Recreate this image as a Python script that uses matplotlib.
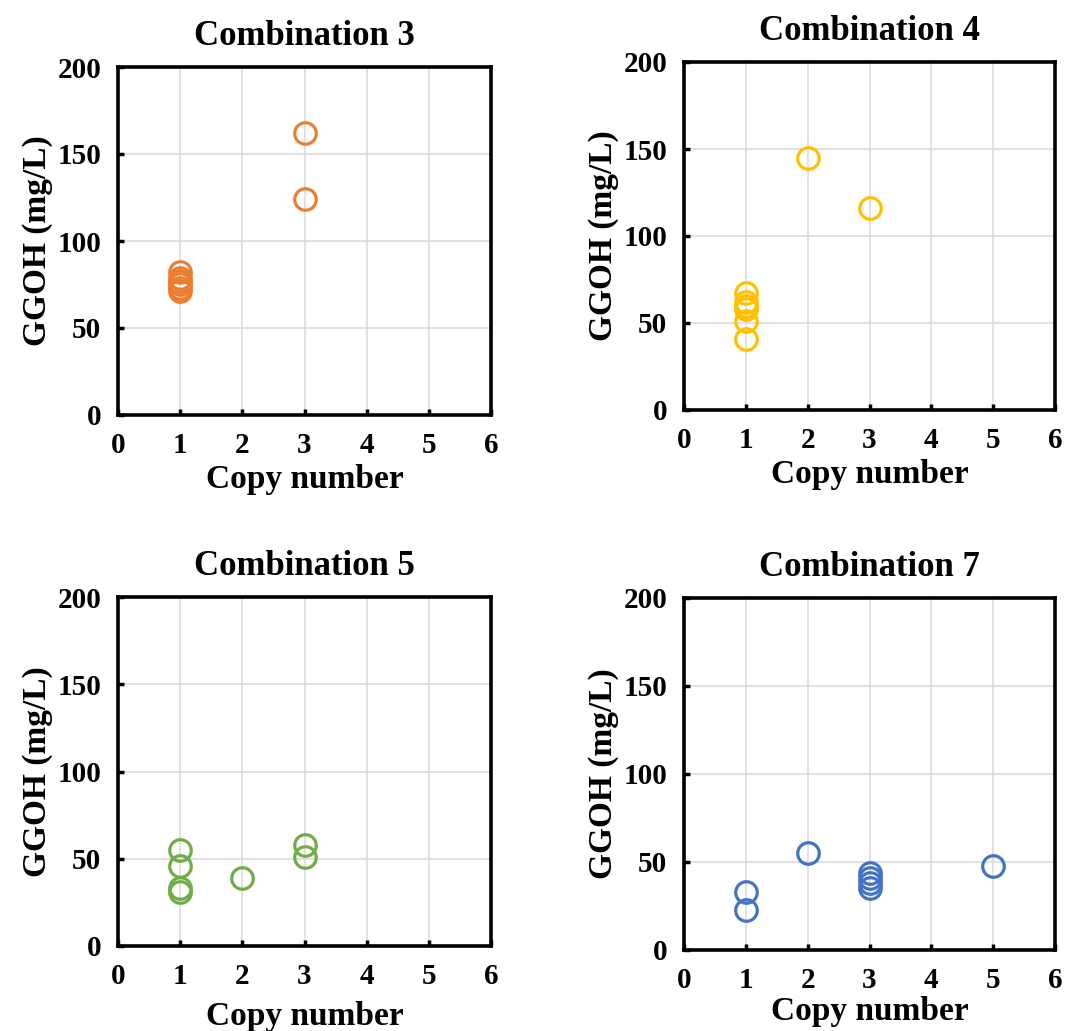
import matplotlib
matplotlib.use("Agg")
import matplotlib.pyplot as plt

plt.rcParams["font.family"] = ["Liberation Serif", "DejaVu Serif"]
plt.rcParams["font.weight"] = "bold"

TITLES = ["Combination 3", "Combination 4", "Combination 5", "Combination 7"]
COLORS = ["#ED7D31", "#FFC000", "#70AD47", "#4472C4"]

comb3_x = [1, 1, 1, 1, 1, 1, 3, 3]
comb3_y = [71, 73, 75, 77, 79, 82, 162, 124]

comb4_x = [1, 1, 1, 1, 1, 1, 2, 3]
comb4_y = [41, 51, 58, 60, 62, 67, 145, 116]

comb5_x = [1, 1, 1, 1, 2, 3, 3]
comb5_y = [55, 46, 33, 31, 39, 58, 51]

comb7_x = [1, 1, 2, 3, 3, 3, 3, 5]
comb7_y = [33, 23, 55, 44, 41, 38, 35, 48]

SERIES = [(comb3_x, comb3_y), (comb4_x, comb4_y), (comb5_x, comb5_y), (comb7_x, comb7_y)]

X_TICKS = [0, 1, 2, 3, 4, 5, 6]
Y_TICKS = [0, 50, 100, 150, 200]

W, H = 1069, 1031
# panel frames in pixels: left, right, top, bottom
FRAMES = [
    (118, 491, 67, 415),
    (684, 1055, 62, 410),
    (118, 491, 597, 946),
    (684, 1055, 598, 950),
]
XLABEL_PAD = [4, 4, 8, 2]

fig = plt.figure(figsize=(W / 100, H / 100), dpi=100)

for i, (title, color, (xs, ys)) in enumerate(zip(TITLES, COLORS, SERIES)):
    l, r, t, b = FRAMES[i]
    ax = fig.add_axes([l / W, 1 - b / H, (r - l) / W, (b - t) / H])
    ax.plot(xs, ys, linestyle="none", marker="o", markersize=15.5,
            markerfacecolor="none", markeredgecolor=color,
            markeredgewidth=2.3, clip_on=False, zorder=3)
    ax.set_xlim(0, 6)
    ax.set_ylim(0, 200)
    ax.set_xticks(X_TICKS)
    ax.set_yticks(Y_TICKS)
    ax.grid(True, color="#d9d9d9", linewidth=1.1)
    ax.set_axisbelow(True)
    for sp in ax.spines.values():
        sp.set_linewidth(2.6)
    ax.tick_params(direction="in", length=4.5, width=2.5, labelsize=21,
                   pad=12)
    for lab in ax.get_xticklabels() + ax.get_yticklabels():
        lab.set_fontweight("bold")
    ax.set_title(title, fontsize=25, fontweight="bold", pad=16)
    ax.set_xlabel("Copy number", fontsize=24, fontweight="bold",
                  labelpad=XLABEL_PAD[i])
    ax.set_ylabel("GGOH (mg/L)", fontsize=24, fontweight="bold", labelpad=3)

fig.savefig("out.png", dpi=100)
